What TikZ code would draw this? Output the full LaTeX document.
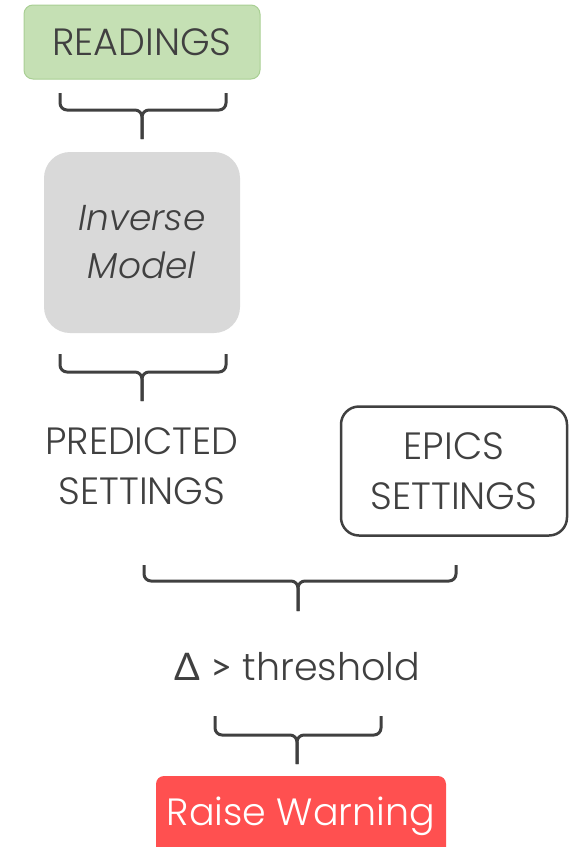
\documentclass[tikz,border=0pt]{standalone}
\usepackage{fontspec}
\setmainfont{Poppins Light}
\newfontfamily\grk{Lato}
\definecolor{txt}{HTML}{404040}
\definecolor{greenfill}{HTML}{C5E0B4}
\definecolor{greenline}{HTML}{A9CF94}
\definecolor{grayfill}{HTML}{D9D9D9}
\definecolor{redfill}{HTML}{FF5050}
\begin{document}
\begin{tikzpicture}[x=1pt,y=-1pt,
  lbl/.style={text=txt,font=\fontsize{38}{50}\selectfont,align=center,inner sep=0pt},
  brace/.style={draw=txt,line width=3pt,rounded corners=7pt}]
\useasboundingbox (0,0) rectangle (570,847);
% boxes
\node[draw=greenline,fill=greenfill,rounded corners=9pt,line width=1pt,minimum width=236pt,minimum height=74pt] (readings) at (142,42) {};
\node[lbl] at (readings.center) {READINGS};
\node[fill=grayfill,rounded corners=26pt,minimum width=196pt,minimum height=181pt] (model) at (142,242.5) {};
\node[lbl,font=\fontsize{36}{48}\selectfont\itshape] at (model.center) {Inverse\\Model};
\node[lbl] (pred) at (142,466) {PREDICTED\\SETTINGS};
\node[draw=txt,line width=2.5pt,fill=white,rounded corners=18pt,minimum width=226pt,minimum height=129pt] (epics) at (454,471) {};
\node[lbl] at (epics.center) {EPICS\\SETTINGS};
\node[lbl] (thr) at (297,667) {{\grk Δ} {\grk >} threshold};
\node[fill=redfill,rounded corners=8pt,minimum width=290pt,minimum height=80pt] (warn) at (301,816) {};
\node[lbl,text=white] at (warn.center) {Raise Warning};
% braces
\draw[brace] (60,93) |- (142,110) -- (142,139);
\draw[brace] (226,93) |- (142,110) -- (142,139);
\draw[brace] (60,354) |- (142,372) -- (142,401);
\draw[brace] (226,354) |- (142,372) -- (142,401);
\draw[brace] (144,565) |- (298,581) -- (298,611);
\draw[brace] (456,565) |- (298,581) -- (298,611);
\draw[brace] (215,716) |- (297,735) -- (297,764);
\draw[brace] (381,716) |- (297,735) -- (297,764);
\end{tikzpicture}
\end{document}
